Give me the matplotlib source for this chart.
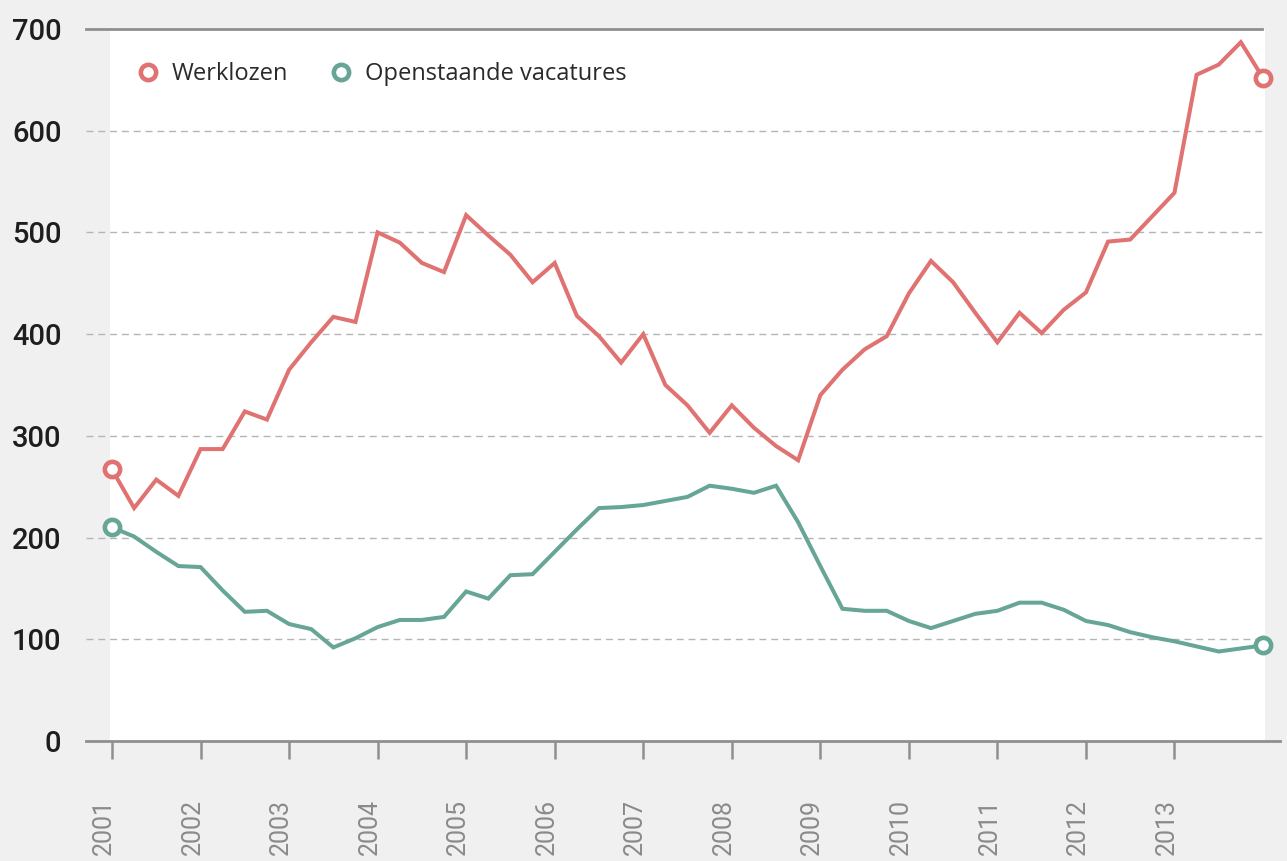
import matplotlib
matplotlib.use("Agg")
import matplotlib.pyplot as plt
import matplotlib.transforms as mtransforms
from matplotlib.lines import Line2D

# ---- data (quarterly, 2001 Q1 .. 2014 Q1) ----
years = [2001, 2002, 2003, 2004, 2005, 2006, 2007, 2008, 2009, 2010, 2011, 2012, 2013]
werklozen = [267, 229, 257, 241, 287, 287, 324, 316, 365, 392,
             417, 412, 500, 490, 470, 461, 517, 497, 478, 451,
             470, 418, 398, 372, 400, 350, 330, 303, 330, 308,
             290, 276, 340, 365, 385, 398, 440, 472, 451, 421,
             392, 421, 401, 424, 441, 491, 493, 516, 539, 655,
             665, 687, 652]
vacatures = [210, 201, 186, 172, 171, 148, 127, 128, 115, 110,
             92, 101, 112, 119, 119, 122, 147, 140, 163, 164,
             186, 208, 229, 230, 232, 236, 240, 251, 248, 244,
             251, 215, 172, 130, 128, 128, 118, 111, 118, 125,
             128, 136, 136, 129, 118, 114, 107, 102, 98, 93,
             88, 91, 94]
yticks = [0, 100, 200, 300, 400, 500, 600, 700]
labels = ["Werklozen", "Openstaande vacatures"]

RED = "#e07272"
TEAL = "#67a697"
BG = "#f0f0f0"

W, H = 1287, 861
fig = plt.figure(figsize=(W / 100, H / 100), dpi=100, facecolor=BG)

ax_l, ax_r, ax_t, ax_b = 110, 1265, 29, 741
ax = fig.add_axes([ax_l / W, 1 - ax_b / H, (ax_r - ax_l) / W, (ax_b - ax_t) / H])
ax.set_facecolor("white")

n = len(werklozen)
xq = list(range(n))
span_px = ax_r - ax_l
x0_px, x1_px = 108, 1263
per = (x1_px - x0_px) / (n - 1)
ax.set_xlim(-(ax_l - x0_px) / per, (n - 1) + (ax_r - x1_px) / per)
ax.set_ylim(0, 700)

for s in ax.spines.values():
    s.set_visible(False)

def frac(px):
    return (px - ax_l) / span_px

# gridlines
for v in yticks[1:-1]:
    ax.axhline(v, xmin=frac(86), xmax=frac(1265), color="#b5b5b5", lw=1.0,
               linestyle=(0, (5, 3.5)), clip_on=False, zorder=1)
ax.axhline(700, xmin=frac(86), xmax=frac(1262), color="#8f8f8f", lw=2.0,
           clip_on=False, zorder=1)
ax.axhline(0, xmin=frac(86), xmax=frac(1280), color="#8f8f8f", lw=2.0,
           clip_on=False, zorder=1)

# lines
ax.plot(xq, werklozen, color=RED, lw=2.9, zorder=3, clip_on=False,
        solid_joinstyle="miter")
ax.plot(xq, vacatures, color=TEAL, lw=2.9, zorder=3, clip_on=False,
        solid_joinstyle="miter")
mk = dict(marker="o", markersize=11, markeredgewidth=3.3,
          markerfacecolor="white", linestyle="none")
ax.plot([xq[0], xq[-1]], [werklozen[0], werklozen[-1]], markeredgecolor=RED,
        zorder=4, clip_on=False, **mk)
ax.plot([xq[0], xq[-1]], [vacatures[0], vacatures[-1]], markeredgecolor=TEAL,
        zorder=4, clip_on=False, **mk)

# x ticks
ax.set_xticks([4 * i for i in range(len(years))])
ax.set_xticklabels([str(y) for y in years], rotation=90, va="top", ha="center",
                   fontsize=18, color="#8a8a8a", family=["Roboto", "DejaVu Sans"])
ax.tick_params(axis="x", length=13, width=1.8, color="#8f8f8f", pad=29)
offset = mtransforms.ScaledTranslation(-8 / 100, 0, fig.dpi_scale_trans)
for lab in ax.get_xticklabels():
    lab.set_transform(lab.get_transform() + offset)

# y ticks
ax.set_yticks(yticks)
ax.set_yticklabels([str(v) for v in yticks], fontsize=21, color="#1e1e1e",
                   family=["Roboto", "DejaVu Sans"], fontweight="medium")
ax.tick_params(axis="y", length=0, pad=35)

# legend
handles = [Line2D([], [], markeredgecolor=RED, **mk),
           Line2D([], [], markeredgecolor=TEAL, **mk)]
leg = fig.legend(handles, labels, loc="center left",
                 bbox_to_anchor=(136 / W, 1 - 74 / H), ncol=2, frameon=False,
                 borderpad=0, borderaxespad=0, handlelength=1.0,
                 handletextpad=0.5, columnspacing=1.75,
                 prop={"family": ["Open Sans", "DejaVu Sans"], "size": 17})
for t in leg.get_texts():
    t.set_color("#2a2a2a")

fig.savefig("out.png", dpi=100, facecolor=BG)
